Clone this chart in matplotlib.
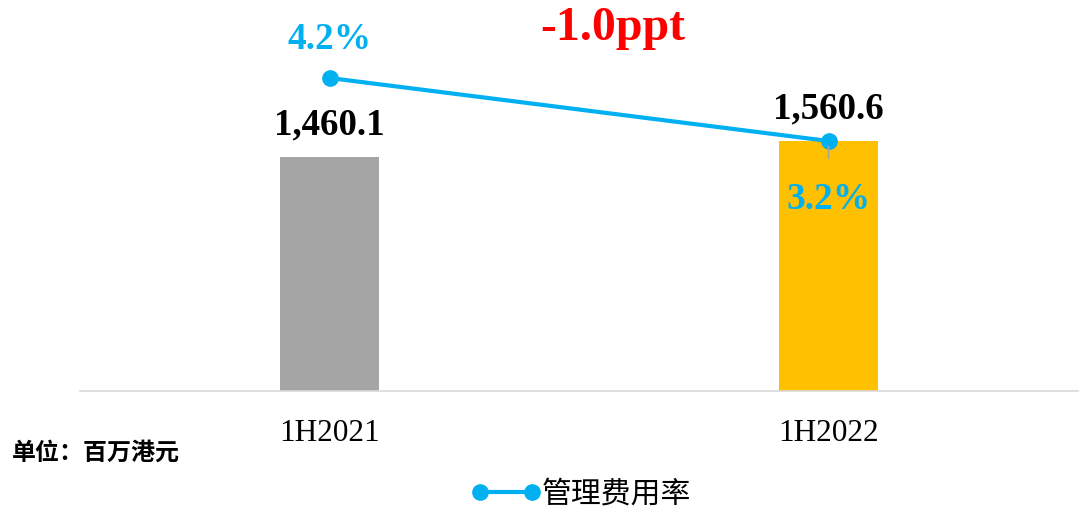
import numpy as np
import matplotlib
matplotlib.use("Agg")
import matplotlib.pyplot as plt
from matplotlib.font_manager import FontProperties

# data
periods = ["1H2021", "1H2022"]
expenses = [1460.1, 1560.6]        # 百万港元
expense_rate = [4.2, 3.2]          # 管理费用率, %
bar_colors = ["#A5A5A5", "#FFC000"]
line_color = "#00B0F0"

serif = ["Liberation Serif", "DejaVu Serif"]
cjk = ["Noto Sans CJK SC", "DejaVu Sans"]

def serif_bold(size):
    return FontProperties(family=serif, weight="bold", size=size)

fig = plt.figure(figsize=(10.79, 5.12), dpi=100)
ax = fig.add_axes([80 / 1079, 1 - 391 / 512, 998 / 1079, 391 / 512])
x = np.arange(len(periods))

# bars
ax.bar(x, expenses, width=0.2, color=bar_colors, zorder=2)
ax.set_xlim(-0.5, 1.5)
ax.set_ylim(0, 2440)
for xi, v in zip(x, expenses):
    ax.annotate(f"{v:,.1f}", (xi, v), xytext=(0, 23), textcoords="offset points",
                ha="center", va="center", fontproperties=serif_bold(26.6),
                color="black")

for s in ["top", "right", "left"]:
    ax.spines[s].set_visible(False)
ax.spines["bottom"].set_color("#D9D9D9")
ax.spines["bottom"].set_linewidth(1.2)
ax.set_yticks([])
ax.set_xticks(x)
ax.set_xticklabels(periods, fontsize=22.5, family=serif)
ax.tick_params(axis="x", length=0, pad=20)

# rate line on secondary axis
ax2 = ax.twinx()
ax2.set_ylim(-0.768, 5.438)
ax2.plot(x, expense_rate, color=line_color, lw=3, marker="o", ms=11,
         label="管理费用率", zorder=3)
ax2.set_yticks([])
for s in ax2.spines.values():
    s.set_visible(False)

ax2.annotate(f"{expense_rate[0]:.1f}%", (x[0], expense_rate[0]), xytext=(0, 28),
             textcoords="offset points", ha="center", va="center",
             fontproperties=serif_bold(26.9), color=line_color)
ax2.annotate(f"{expense_rate[1]:.1f}%", (x[1], expense_rate[1]), xytext=(0, -42),
             textcoords="offset points", ha="center", va="center",
             fontproperties=serif_bold(26.9), color=line_color,
             arrowprops=dict(arrowstyle="-", color="#A5A5A5", lw=1.2,
                             shrinkA=15, shrinkB=4))

# change in rate
diff = expense_rate[1] - expense_rate[0]
fig.text(613 / 1079, 1 - 28 / 512, f"{diff:.1f}ppt", ha="center", va="center",
         fontproperties=serif_bold(34.5), color="#FF0000")

# unit note
fig.text(12 / 1079, 1 - 453 / 512, "单位：百万港元", ha="left", va="center",
         fontsize=17.3, fontweight="bold", family=cjk)

# legend
leg = ax2.legend(loc="center", bbox_to_anchor=(581 / 1079, 1 - 494 / 512),
                 bbox_transform=fig.transFigure, frameon=False,
                 prop=dict(family=cjk, size=21.5), numpoints=2,
                 handlelength=2.34, handletextpad=0.0, borderpad=0)

fig.savefig("out.png", dpi=100)
